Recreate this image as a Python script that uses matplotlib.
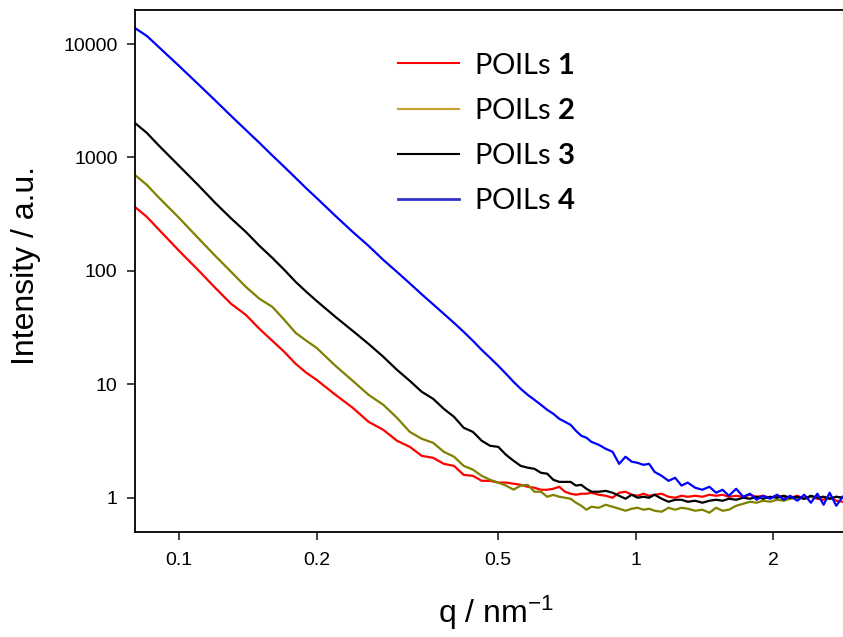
import matplotlib
matplotlib.use('Agg')
import matplotlib.pyplot as plt
from matplotlib.lines import Line2D

# scattering vector q / nm^-1 (low-q part, then the noisy high-q part)
q_low = [0.080, 0.085, 0.09, 0.10, 0.11, 0.12, 0.13, 0.14, 0.15, 0.16,
         0.17, 0.18, 0.19, 0.20, 0.22, 0.24, 0.26, 0.28, 0.30, 0.32,
         0.34, 0.36, 0.38]
q_high = [0.40, 0.42, 0.44, 0.46, 0.48, 0.50, 0.52, 0.54, 0.56, 0.58,
          0.60, 0.62, 0.64, 0.66, 0.68, 0.70, 0.72, 0.74, 0.76, 0.78,
          0.80, 0.83, 0.86, 0.89, 0.92, 0.95, 0.98, 1.01, 1.04, 1.07,
          1.10, 1.14, 1.18, 1.22, 1.26, 1.30, 1.35, 1.40, 1.45, 1.50,
          1.55, 1.60, 1.66, 1.72, 1.78, 1.84, 1.90, 1.97, 2.04, 2.11,
          2.18, 2.26, 2.34, 2.42, 2.50, 2.58, 2.66, 2.75, 2.84]
q = q_low + q_high

poils_1 = [366.4, 299.1, 234.4, 150.1, 102.0, 70.8, 51.2, 40.97, 30.8, 24.2,
           19.3, 15.16, 12.63, 10.96, 8.08, 6.21, 4.67, 3.97, 3.18, 2.81,
           2.34, 2.25, 1.99,
           1.91, 1.59, 1.56, 1.41, 1.41, 1.36, 1.36, 1.33, 1.30, 1.25,
           1.225, 1.176, 1.176, 1.20, 1.25, 1.13, 1.085, 1.063, 1.085, 1.085,
           1.107, 1.063, 1.041, 1.000, 1.107, 1.129, 1.063, 1.041, 1.085, 1.041,
           1.063, 1.085, 1.020, 1.000, 1.041, 1.020, 1.041, 1.020, 1.063, 1.041,
           1.063, 1.020, 1.041, 1.020, 1.063, 1.020, 1.041, 1.000, 1.041, 1.020,
           1.000, 1.041, 0.980, 1.020, 0.980, 0.960, 1.000, 0.941, 0.922]

poils_2 = [701.3, 572.4, 448.8, 293.1, 195.3, 135.6, 98.0, 72.3, 56.7, 48.2,
           37.0, 28.4, 24.2, 20.97, 14.56, 10.74, 8.08, 6.60, 5.07, 3.81,
           3.31, 3.05, 2.54,
           2.30, 1.91, 1.77, 1.56, 1.44, 1.36, 1.28, 1.18, 1.28, 1.30,
           1.13, 1.13, 1.02, 1.06, 1.02, 1.00, 0.98, 0.904, 0.850, 0.784,
           0.833, 0.816, 0.868, 0.833, 0.800, 0.768, 0.800, 0.816, 0.784, 0.800,
           0.768, 0.753, 0.816, 0.784, 0.816, 0.800, 0.768, 0.784, 0.738, 0.816,
           0.768, 0.784, 0.850, 0.885, 0.922, 0.904, 0.941, 0.922, 0.960, 0.941,
           0.980, 1.000, 0.980, 1.020, 1.000, 1.020, 0.980, 1.020, 1.000]

poils_3 = [2014, 1644, 1289, 841.9, 572.4, 397.2, 290.1, 220.6, 166.1, 130.2,
           102.0, 80.0, 65.3, 54.4, 39.3, 29.6, 22.7, 17.5, 13.42, 10.74,
           8.59, 7.45, 6.08,
           5.17, 4.14, 3.81, 3.18, 2.87, 2.81, 2.39, 2.12, 1.91, 1.84,
           1.80, 1.66, 1.63, 1.44, 1.38, 1.38, 1.38, 1.28, 1.30, 1.20,
           1.13, 1.13, 1.15, 1.107, 1.041, 0.980, 1.063, 1.000, 1.020, 1.000,
           1.063, 0.980, 0.922, 0.960, 0.960, 0.922, 0.941, 0.904, 0.941, 0.960,
           0.941, 0.980, 0.960, 1.000, 0.980, 1.020, 0.980, 1.020, 1.000, 1.041,
           1.000, 1.020, 0.980, 1.041, 1.000, 1.020, 0.980, 1.020, 1.000]

poils_4 = [13840, 11770, 9506, 6400, 4442, 3178, 2321, 1747, 1342, 1041,
           824.9, 659.7, 533.2, 439.8, 305.1, 220.6, 166.1, 125.0, 98.0, 77.6,
           62.1, 50.7, 41.8,
           34.8, 29.0, 24.2, 20.1, 17.1, 14.56, 12.38, 10.52, 9.13, 8.08,
           7.30, 6.60, 5.96, 5.50, 4.97, 4.67, 4.40, 3.89, 3.52, 3.38,
           3.11, 2.93, 2.70, 2.54, 1.99, 2.30, 2.08, 2.03, 1.95, 1.99,
           1.69, 1.56, 1.41, 1.50, 1.28, 1.36, 1.225, 1.176, 1.250, 1.107,
           1.176, 1.041, 1.200, 1.020, 1.085, 0.960, 1.041, 0.980, 1.063, 0.960,
           1.041, 0.941, 1.063, 0.904, 1.085, 0.868, 1.107, 0.850, 1.020]

series_labels = [r'POILs $\mathbf{1}$', r'POILs $\mathbf{2}$',
                 r'POILs $\mathbf{3}$', r'POILs $\mathbf{4}$']
line_colors = ['#ff0000', '#808000', '#000000', '#0000ff']
legend_colors = ['#ff0000', '#c9a030', '#000000', '#3333cc']

x_ticks = [0.1, 0.2, 0.5, 1, 2]
x_tick_labels = ['0.1', '0.2', '0.5', '1', '2']
y_ticks = [1, 10, 100, 1000, 10000]
y_tick_labels = ['1', '10', '100', '1000', '10000']

plt.rcParams['font.family'] = 'Liberation Sans'
plt.rcParams['mathtext.fontset'] = 'custom'
plt.rcParams['mathtext.rm'] = 'Liberation Sans'
plt.rcParams['mathtext.it'] = 'Liberation Sans'
plt.rcParams['mathtext.bf'] = 'Lato:bold'

fig = plt.figure(figsize=(8.43, 6.37), dpi=100)
ax = fig.add_axes([0.160, 0.165, 0.840, 0.8195])

for vals, col in zip([poils_1, poils_2, poils_3, poils_4], line_colors):
    ax.plot(q, vals, color=col, lw=1.6)

ax.set_xscale('log')
ax.set_yscale('log')
ax.set_xlim(0.08, 2.845)
ax.set_ylim(0.5, 20000)

ax.set_xticks(x_ticks)
ax.set_xticklabels(x_tick_labels)
ax.set_yticks(y_ticks)
ax.set_yticklabels(y_tick_labels)
ax.minorticks_off()
ax.tick_params(direction='out', length=5.5, width=1.2, labelsize=14, color='#222222')
ax.tick_params(axis='x', pad=9)
ax.tick_params(axis='y', pad=7)

for side in ['left', 'top', 'bottom']:
    ax.spines[side].set_linewidth(1.3)
ax.spines['right'].set_visible(False)

ax.set_ylabel('Intensity / a.u.', fontsize=23)
ax.yaxis.set_label_coords(-0.132, 0.51)
ax.set_xlabel(r'q / nm$^{-1}$', fontsize=23)
ax.xaxis.set_label_coords(0.51, -0.118)

handles = [Line2D([], [], color=c, lw=1.5) for c in legend_colors]
handles[3].set_linewidth(2.0)
leg = ax.legend(handles, series_labels, loc='upper left', bbox_to_anchor=(0.3715, 0.918),
                frameon=False, borderpad=0, borderaxespad=0, handlelength=2.1,
                handletextpad=0.5, labelspacing=0.66,
                prop={'family': 'Lato', 'size': 21})

fig.savefig('out.png', dpi=100)
